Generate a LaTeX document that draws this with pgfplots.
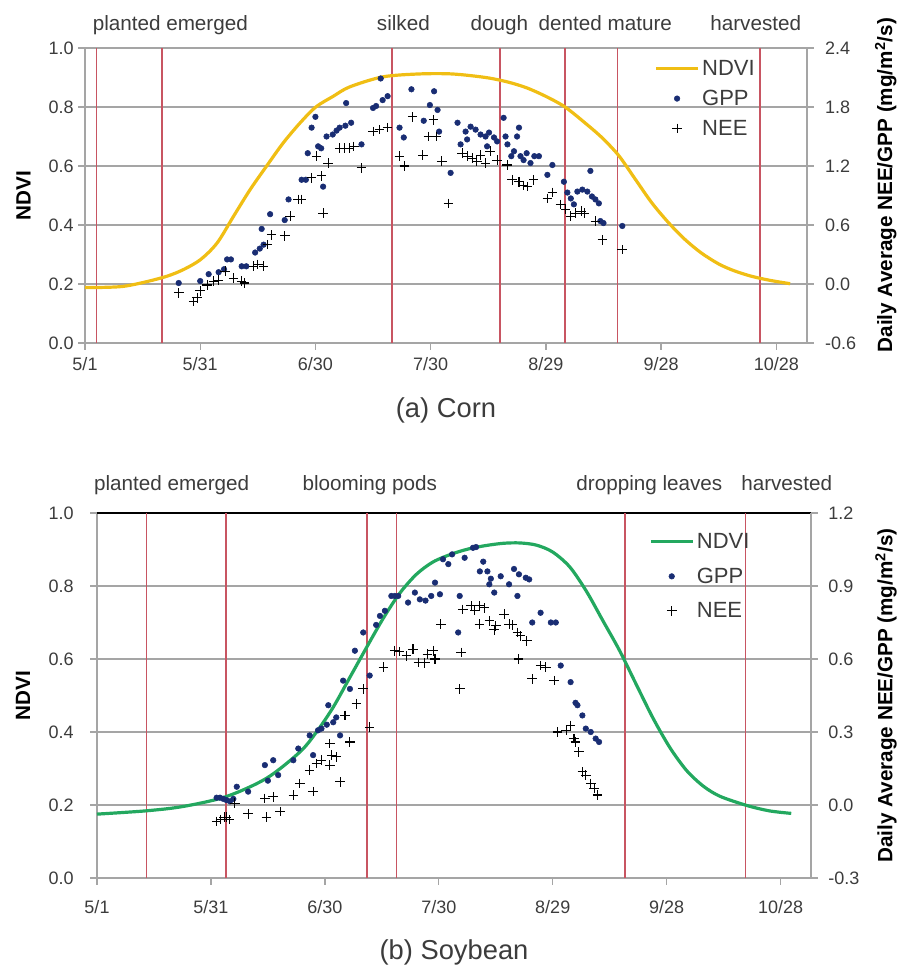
\documentclass[border=0pt]{standalone}
\usepackage{fontspec}
\setmainfont{Liberation Sans}
\usepackage{pgfplots}
\pgfplotsset{compat=1.18}

\definecolor{ndviY}{RGB}{240,190,20}
\definecolor{ndviG}{RGB}{35,168,95}
\definecolor{gppC}{RGB}{25,45,115}
\definecolor{stageC}{RGB}{200,85,98}
\definecolor{gridC}{RGB}{165,165,165}
\definecolor{tickC}{RGB}{60,60,60}

\pgfplotsset{
  panel/.style={scale only axis, anchor=south west, xmin=0, xmax=188, clip=false,
    xtick={0,30,60,90,120,150,180},
    xticklabels={5/1,5/31,6/30,7/30,8/29,9/28,10/28},
    tick label style={font=\fontsize{13.5}{16}\selectfont, text=tickC},
    /pgf/number format/assume math mode=true,
    /pgf/number format/fixed, /pgf/number format/fixed zerofill, /pgf/number format/precision=1,
    axis line style={gridC, line width=1pt}, tick style={gridC, line width=1pt},
    major tick length=5pt, tick align=outside,
    grid style={gridC, line width=1pt},
    label style={font=\fontsize{15.5}{18}\selectfont\bfseries},
  },
  legline/.style={legend image code/.code={\draw[##1] (0cm,0cm) -- (1.1cm,0cm);}},
  legmark/.style={legend image code/.code={\draw[##1] plot coordinates {(0.55cm,0cm)};}},
  stage/.style={stageC, line width=1.2pt, forget plot},
  gpp/.style={only marks, mark=*, mark size=2.1pt, gppC, mark options={draw=gppC, fill=gppC}, legmark},
  nee/.style={only marks, mark=+, mark size=3.6pt, black, mark options={line width=0.8pt}, legmark},
}
\tikzset{lab/.style={anchor=base west, font=\fontsize{15.5}{18}\selectfont, text=tickC}}

\begin{document}
\begin{tikzpicture}
\useasboundingbox (0,0) rectangle (674.25pt,729pt);

% ---------- (a) Corn ----------
\begin{axis}[panel, at={(63.75pt,471.75pt)}, width=541.5pt, height=221.25pt,
  ymin=0, ymax=1, ytick={0,0.2,0.4,0.6,0.8,1}, ymajorgrids,
  axis x line*=bottom, axis y line*=left,
  xticklabel style={yshift=-2pt},
  ylabel={NDVI}, ylabel style={at={(axis description cs:-0.085,0.5)}, anchor=center}]
\addplot[stage] coordinates {(3,0) (3,1)};
\addplot[stage] coordinates {(20,0) (20,1)};
\addplot[stage] coordinates {(80,0) (80,1)};
\addplot[stage] coordinates {(108,0) (108,1)};
\addplot[stage] coordinates {(125,0) (125,1)};
\addplot[stage] coordinates {(138.7,0) (138.7,1)};
\addplot[stage] coordinates {(175.8,0) (175.8,1)};
\addplot[ndviY, line width=2.4pt, smooth] coordinates {
(0,0.188) (10,0.192) (19.7,0.22) (25,0.245) (30,0.282) (34.4,0.339) (38.7,0.43) (43,0.52)
(47.3,0.60) (51.6,0.678) (56,0.746) (60.1,0.80) (64.6,0.836) (68.9,0.868) (77.5,0.902)
(87,0.912) (95.6,0.912) (104.3,0.900) (110,0.885) (115,0.865) (120,0.836) (125,0.800)
(130.3,0.745) (134.7,0.695) (139,0.635) (143.3,0.555) (147.6,0.475) (152,0.407)
(156.3,0.35) (160.5,0.305) (165,0.268) (169,0.245) (173.6,0.226) (178.5,0.212) (183.6,0.201)};
\node[lab] at (axis cs:0.8,1.058) {planted emerged};
\node[lab] at (axis cs:74.8,1.058) {silked};
\node[lab] at (axis cs:99.2,1.058) {dough};
\node[lab] at (axis cs:116.9,1.058) {dented mature};
\node[lab] at (axis cs:161.6,1.058) {harvested};
\node[font=\fontsize{20.5}{24}\selectfont, text=tickC] at (axis description cs:0.5,-0.227) {(a) Corn};
\end{axis}

\begin{axis}[panel, at={(63.75pt,471.75pt)}, width=541.5pt, height=221.25pt,
  ymin=-0.6, ymax=2.4, ytick={-0.6,0,0.6,1.2,1.8,2.4},
  axis x line=none, axis y line*=right,
  yticklabel style={xshift=5pt},
  ylabel={Daily Average NEE/GPP (mg/m\textsuperscript{2}/s)},
  ylabel style={at={(axis description cs:1.109,0.535)}, anchor=center},
  legend style={at={(axis description cs:0.783,0.978)}, anchor=north west, draw=none, fill=none,
    font=\fontsize{16.5}{19}\selectfont, text=tickC, row sep=5.5pt, cells={anchor=west}},
  legend cell align=left]
\addlegendimage{ndviY, line width=2.4pt, legline}
\addlegendentry{NDVI}
\addplot[gpp] coordinates {
(24.4,0.01) (30,0.03) (32.2,0.10) (34.8,0.12) (36.2,0.15) (37,0.25) (38,0.25) (40.8,0.18)
(42,0.18) (44.3,0.32) (45.5,0.36) (46.5,0.40) (46,0.56) (48.2,0.71) (52,0.65) (53,0.86)
(56.4,1.06) (57.5,1.06) (58,1.33) (59,1.59) (60,1.70) (60.7,1.40) (61.5,1.38) (62,0.99)
(62.9,1.50) (64.5,1.52) (65.5,1.56) (66.3,1.59) (67.8,1.61) (69.3,1.64) (68,1.84) (72,1.42)
(75,1.79) (75.8,1.81) (77.5,1.87) (78.8,1.91) (77,2.09) (81.9,1.59) (83,1.49) (85,1.98)
(88.2,1.66) (89.8,1.82) (90.9,1.96) (91.8,1.77) (92.2,1.55) (95.2,1.13) (97,1.64) (97.8,1.42)
(99.1,1.55) (99.5,1.47) (100.4,1.60) (101.7,1.57) (103,1.52) (104.3,1.50) (104.7,1.40)
(105.2,1.54) (106.5,1.49) (107.3,1.45) (109,1.69) (109.5,1.50) (110,1.42) (111.7,1.35)
(111,1.30) (112.5,1.50) (113,1.59) (113.4,1.30) (114.2,1.26) (115,1.33) (116,1.23) (117,1.30)
(118.2,1.30) (120.4,1.11) (121.7,1.21) (124.7,1.04) (125.6,0.93) (126.5,0.87) (127.3,0.81)
(128.2,0.94) (129.5,0.96) (130.8,0.94) (131.6,1.15) (132,0.89) (132.9,0.86) (133.8,0.82)
(134.2,0.64) (135,0.62) (139.9,0.59)};
\addlegendentry{GPP}
\addplot[nee] coordinates {
(24.4,-0.09) (28.3,-0.18) (29.2,-0.14) (30,-0.07) (31.8,-0.01) (33.5,0.03) (34.8,0.04)
(36.5,0.13) (38.7,0.06) (40.8,0.03) (41.5,0.01) (43.9,0.18) (45,0.20) (46.5,0.18) (47.5,0.40)
(48.6,0.50) (52,0.49) (53.4,0.69) (55.5,0.86) (56.4,0.86) (59,1.08) (60.3,1.30) (61.6,1.10)
(62,0.72) (63.3,1.23) (66.3,1.38) (67.5,1.38) (68.9,1.38) (70,1.40) (72,1.18) (75,1.55)
(76.7,1.57) (78.8,1.59) (81.9,1.30) (83.2,1.20) (85.3,1.70) (88,1.31) (89.4,1.50) (90.7,1.67)
(91.5,1.50) (92.9,1.25) (94.6,0.82) (98.2,1.33) (99.5,1.30) (100.8,1.28) (102,1.25) (103,1.31)
(104.3,1.23) (105.5,1.35) (107.3,1.26) (109.9,1.21) (111.2,1.06) (113,1.04) (114.2,1.00)
(115.2,0.99) (116.8,1.06) (120.4,0.87) (121.7,0.93) (123.8,0.81) (125.1,0.76) (126.4,0.69)
(127.7,0.72) (129.2,0.74) (130,0.72) (132.9,0.64) (134.7,0.45) (139.9,0.35)};
\addlegendentry{NEE}
\end{axis}

% ---------- (b) Soybean ----------
\begin{axis}[panel, at={(72.75pt,70.5pt)}, width=535.5pt, height=273.75pt,
  ymin=0, ymax=1, ytick={0,0.2,0.4,0.6,0.8,1}, ymajorgrids,
  axis x line*=bottom, axis y line*=left,
  xticklabel style={yshift=-8pt}, yticklabel style={xshift=-9pt},
  ylabel={NDVI}, ylabel style={at={(axis description cs:-0.1036,0.5)}, anchor=center}]
\addplot[black, line width=1.1pt, forget plot] coordinates {(0,1) (188,1)};
\addplot[stage] coordinates {(13,0) (13,1)};
\addplot[stage] coordinates {(34,0) (34,1)};
\addplot[stage] coordinates {(71.1,0) (71.1,1)};
\addplot[stage] coordinates {(78.9,0) (78.9,1)};
\addplot[stage] coordinates {(139,0) (139,1)};
\addplot[stage] coordinates {(170.8,0) (170.8,1)};
\addplot[ndviG, line width=2.4pt, smooth] coordinates {
(0,0.175) (12.9,0.184) (22.7,0.196) (34,0.223) (44.6,0.273) (53.4,0.345) (57.8,0.40)
(62.2,0.468) (66.6,0.550) (71,0.632) (75.4,0.712) (79.7,0.780) (84.1,0.832) (88.5,0.866)
(93.5,0.888) (98,0.902) (102.5,0.911) (107,0.917) (111.3,0.918) (115.7,0.912) (120,0.893)
(124.5,0.852) (128.9,0.785) (133.2,0.705) (137.6,0.623) (142,0.530) (146.4,0.438) (150.8,0.358)
(155.2,0.295) (159.6,0.252) (164,0.224) (171,0.199) (177,0.184) (182.8,0.177)};
\node[lab] at (axis cs:-2,1.063) {planted emerged};
\node[lab] at (axis cs:52.9,1.063) {blooming pods};
\node[lab] at (axis cs:125,1.063) {dropping leaves};
\node[lab] at (axis cs:168.4,1.063) {harvested};
\node[font=\fontsize{20.5}{24}\selectfont, text=tickC] at (axis description cs:0.5,-0.205) {(b) Soybean};
\end{axis}

\begin{axis}[panel, at={(72.75pt,70.5pt)}, width=535.5pt, height=273.75pt,
  ymin=-0.3, ymax=1.2, ytick={-0.3,0,0.3,0.6,0.9,1.2},
  axis x line=none, axis y line*=right,
  yticklabel style={xshift=4.5pt},
  ylabel={Daily Average NEE/GPP (mg/m\textsuperscript{2}/s)},
  ylabel style={at={(axis description cs:1.105,0.5)}, anchor=center},
  legend style={at={(axis description cs:0.7675,0.96)}, anchor=north west, draw=none, fill=none,
    font=\fontsize{16.5}{19}\selectfont, text=tickC, row sep=9pt, cells={anchor=west}},
  legend cell align=left]
\addlegendimage{ndviG, line width=2.4pt, legline}
\addlegendentry{NDVI}
\addplot[gpp] coordinates {
(31.5,0.03) (32.4,0.03) (33.3,0.025) (34.1,0.02) (35,0.015) (35.9,0.025) (36.8,0.075)
(39.8,0.055) (44.2,0.164) (45,0.10) (46.4,0.184) (47.7,0.123) (51.7,0.184) (53,0.232)
(56,0.286) (56.9,0.205) (58.2,0.307) (59.1,0.314) (60.5,0.33) (60.9,0.41) (62.2,0.34)
(63,0.36) (64,0.286) (64.8,0.511) (66.6,0.477) (67.9,0.634) (70.1,0.709) (71.8,0.532)
(73.5,0.74) (74.5,0.777) (75.8,0.798) (77.5,0.859) (78.4,0.859) (79.3,0.859) (81.9,0.832)
(83.7,0.873) (85,0.845) (86.5,0.84) (88,0.859) (89,0.914) (90.3,0.866) (91.1,1.01) (92.5,0.99)
(93.5,1.03) (95.1,0.709) (95.5,0.859) (96.8,1.016) (99,1.057) (99.8,1.06) (100.8,0.96)
(101.7,1.0) (102.8,0.96) (103.3,0.907) (103.7,0.93) (104.6,0.873) (106.3,0.94) (108.5,0.907)
(109.8,0.97) (110.7,0.859) (111.1,0.948) (112.9,0.934) (113.8,0.927) (114.6,0.75) (116.8,0.79)
(119.5,0.75) (120.8,0.75) (122.1,0.573) (124.7,0.505) (126,0.42) (126.5,0.41) (127.8,0.368)
(128.7,0.314) (130,0.30) (131.3,0.273) (132.2,0.259)};
\addlegendentry{GPP}
\addplot[nee] coordinates {
(31.5,-0.068) (32.5,-0.06) (33.5,-0.05) (34,-0.05) (34.8,-0.06) (36.3,0.007) (39.8,-0.036)
(44.2,0.027) (44.6,-0.05) (46.4,0.034) (48.2,-0.027) (51.7,0.04) (53.4,0.089) (56,0.143)
(56.9,0.055) (57.8,0.17) (59.1,0.184) (61.3,0.164) (61.3,0.252) (61.8,0.205) (63.1,0.198)
(64,0.095) (65.3,0.368) (66.6,0.259) (68.3,0.416) (70.1,0.477) (71.8,0.32) (75.4,0.566)
(78.4,0.634) (79.7,0.63) (81.5,0.613) (83.2,0.64) (84.6,0.586) (86.3,0.584) (87,0.62)
(88.5,0.634) (89,0.60) (90.5,0.743) (95.5,0.477) (95.9,0.627) (96.3,0.804) (98.5,0.818)
(99.5,0.80) (100.7,0.818) (100.7,0.743) (102,0.81) (103.3,0.757) (105,0.736) (104.6,0.72)
(107.2,0.784) (108.5,0.743) (109.4,0.74) (110.7,0.709) (111.5,0.695) (113.2,0.675) (111,0.60)
(114.6,0.518) (116.8,0.573) (118.2,0.566) (120.4,0.511) (121.3,0.30) (123.5,0.307)
(124.7,0.327) (125.6,0.273) (126,0.259) (126.9,0.218) (127.8,0.136) (128.7,0.123) (130,0.089)
(130.9,0.068) (131.8,0.041)};
\addlegendentry{NEE}
\end{axis}
\end{tikzpicture}
\end{document}
